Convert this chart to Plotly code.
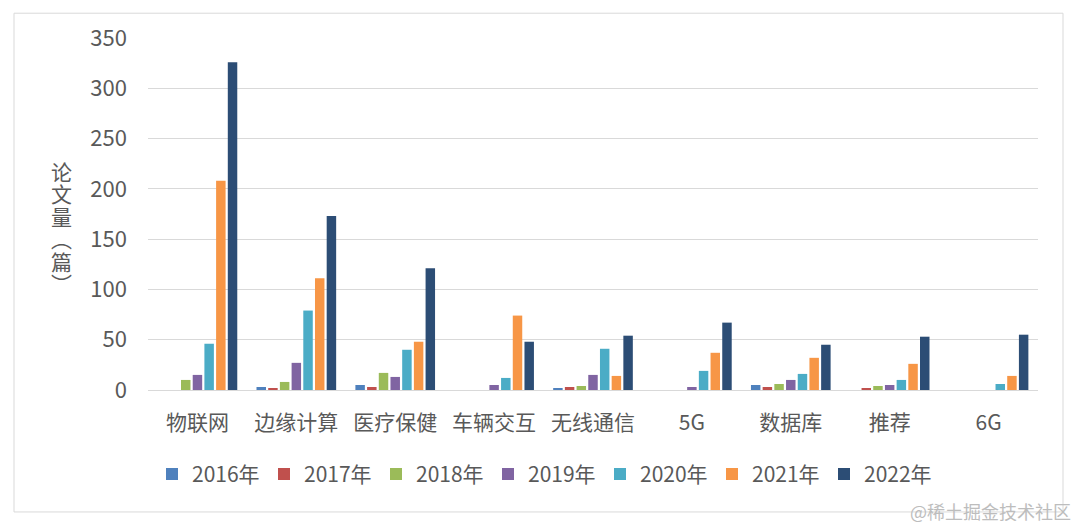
import plotly.graph_objects as go

categories = ["物联网", "边缘计算", "医疗保健", "车辆交互", "无线通信", "5G", "数据库", "推荐", "6G"]
years = ["2016年", "2017年", "2018年", "2019年", "2020年", "2021年", "2022年"]

v2016 = [0, 3, 5, 0, 2, 0, 5, 0, 0]
v2017 = [0, 2, 3, 0, 3, 0, 3, 2, 0]
v2018 = [10, 8, 17, 0, 4, 0, 6, 4, 0]
v2019 = [15, 27, 13, 5, 15, 3, 10, 5, 0]
v2020 = [46, 79, 40, 12, 41, 19, 16, 10, 6]
v2021 = [208, 111, 48, 74, 14, 37, 32, 26, 14]
v2022 = [326, 173, 121, 48, 54, 67, 45, 53, 55]

series = [v2016, v2017, v2018, v2019, v2020, v2021, v2022]
colors = ["#4F81BD", "#C0504D", "#9BBB59", "#8064A2", "#4BACC6", "#F79646", "#2C4D75"]

title_chars = ["论", "文", "量", "︵", "篇", "︶"]

FONT = "Noto Sans CJK SC"
TXT = "#595959"

# page is offset by 8px body margin -> figure coords = page coords - 8
OFF = 8
W, H = 1080 - OFF, 528 - OFF
L, R, T, B = 148 - OFF, 42, 35 - OFF, 138
pw, ph = W - L - R, H - T - B

def px(x):
    return (x - OFF - L) / pw

def py(y):
    return (H - B - (y - OFF)) / ph

fig = go.Figure()
for name, vals, col in zip(years, series, colors):
    fig.add_trace(go.Bar(x=categories, y=vals, name=name, marker=dict(color=col, line=dict(width=0))))

annotations = []
for i, ch in enumerate(title_chars):
    annotations.append(dict(
        text=ch, xref="paper", yref="paper", x=px(61), y=py(169 + i * 22.6),
        xanchor="center", yanchor="middle", showarrow=False,
        font=dict(size=21, color=TXT)))
annotations.append(dict(text="@稀土掘金技术社区", xref="paper", yref="paper",
                        x=px(1073), y=py(512), xanchor="right", yanchor="middle", showarrow=False,
                        font=dict(size=18, color="#bdbdbd")))

fig.update_layout(
    width=W, height=H,
    margin=dict(l=L, r=R, t=T, b=B),
    paper_bgcolor="white", plot_bgcolor="white",
    barmode="group", bargap=0.172, bargroupgap=0.19,
    font=dict(family=FONT, color=TXT, size=21),
    showlegend=True,
    legend=dict(orientation="h", x=px(544), xanchor="center", y=py(475), yanchor="middle",
                font=dict(size=21, color=TXT), entrywidth=67, entrywidthmode="pixels",
                itemwidth=30, traceorder="normal"),
    xaxis=dict(showgrid=False, showline=True, linecolor="#d9d9d9", linewidth=1,
               ticks="", tickfont=dict(size=21, color=TXT), ticklabelstandoff=14),
    yaxis=dict(range=[0, 350], dtick=50, showgrid=True, gridcolor="#d9d9d9", gridwidth=1,
               zeroline=False, showline=False, ticks="", tickfont=dict(size=22, color=TXT),
               ticklabelstandoff=20),
    shapes=[dict(type="rect", xref="paper", yref="paper", x0=px(14), x1=px(1063),
                 y0=py(513), y1=py(10), line=dict(color="#d9d9d9", width=1), layer="below")],
    annotations=annotations,
)

fig.write_html("out.html")
